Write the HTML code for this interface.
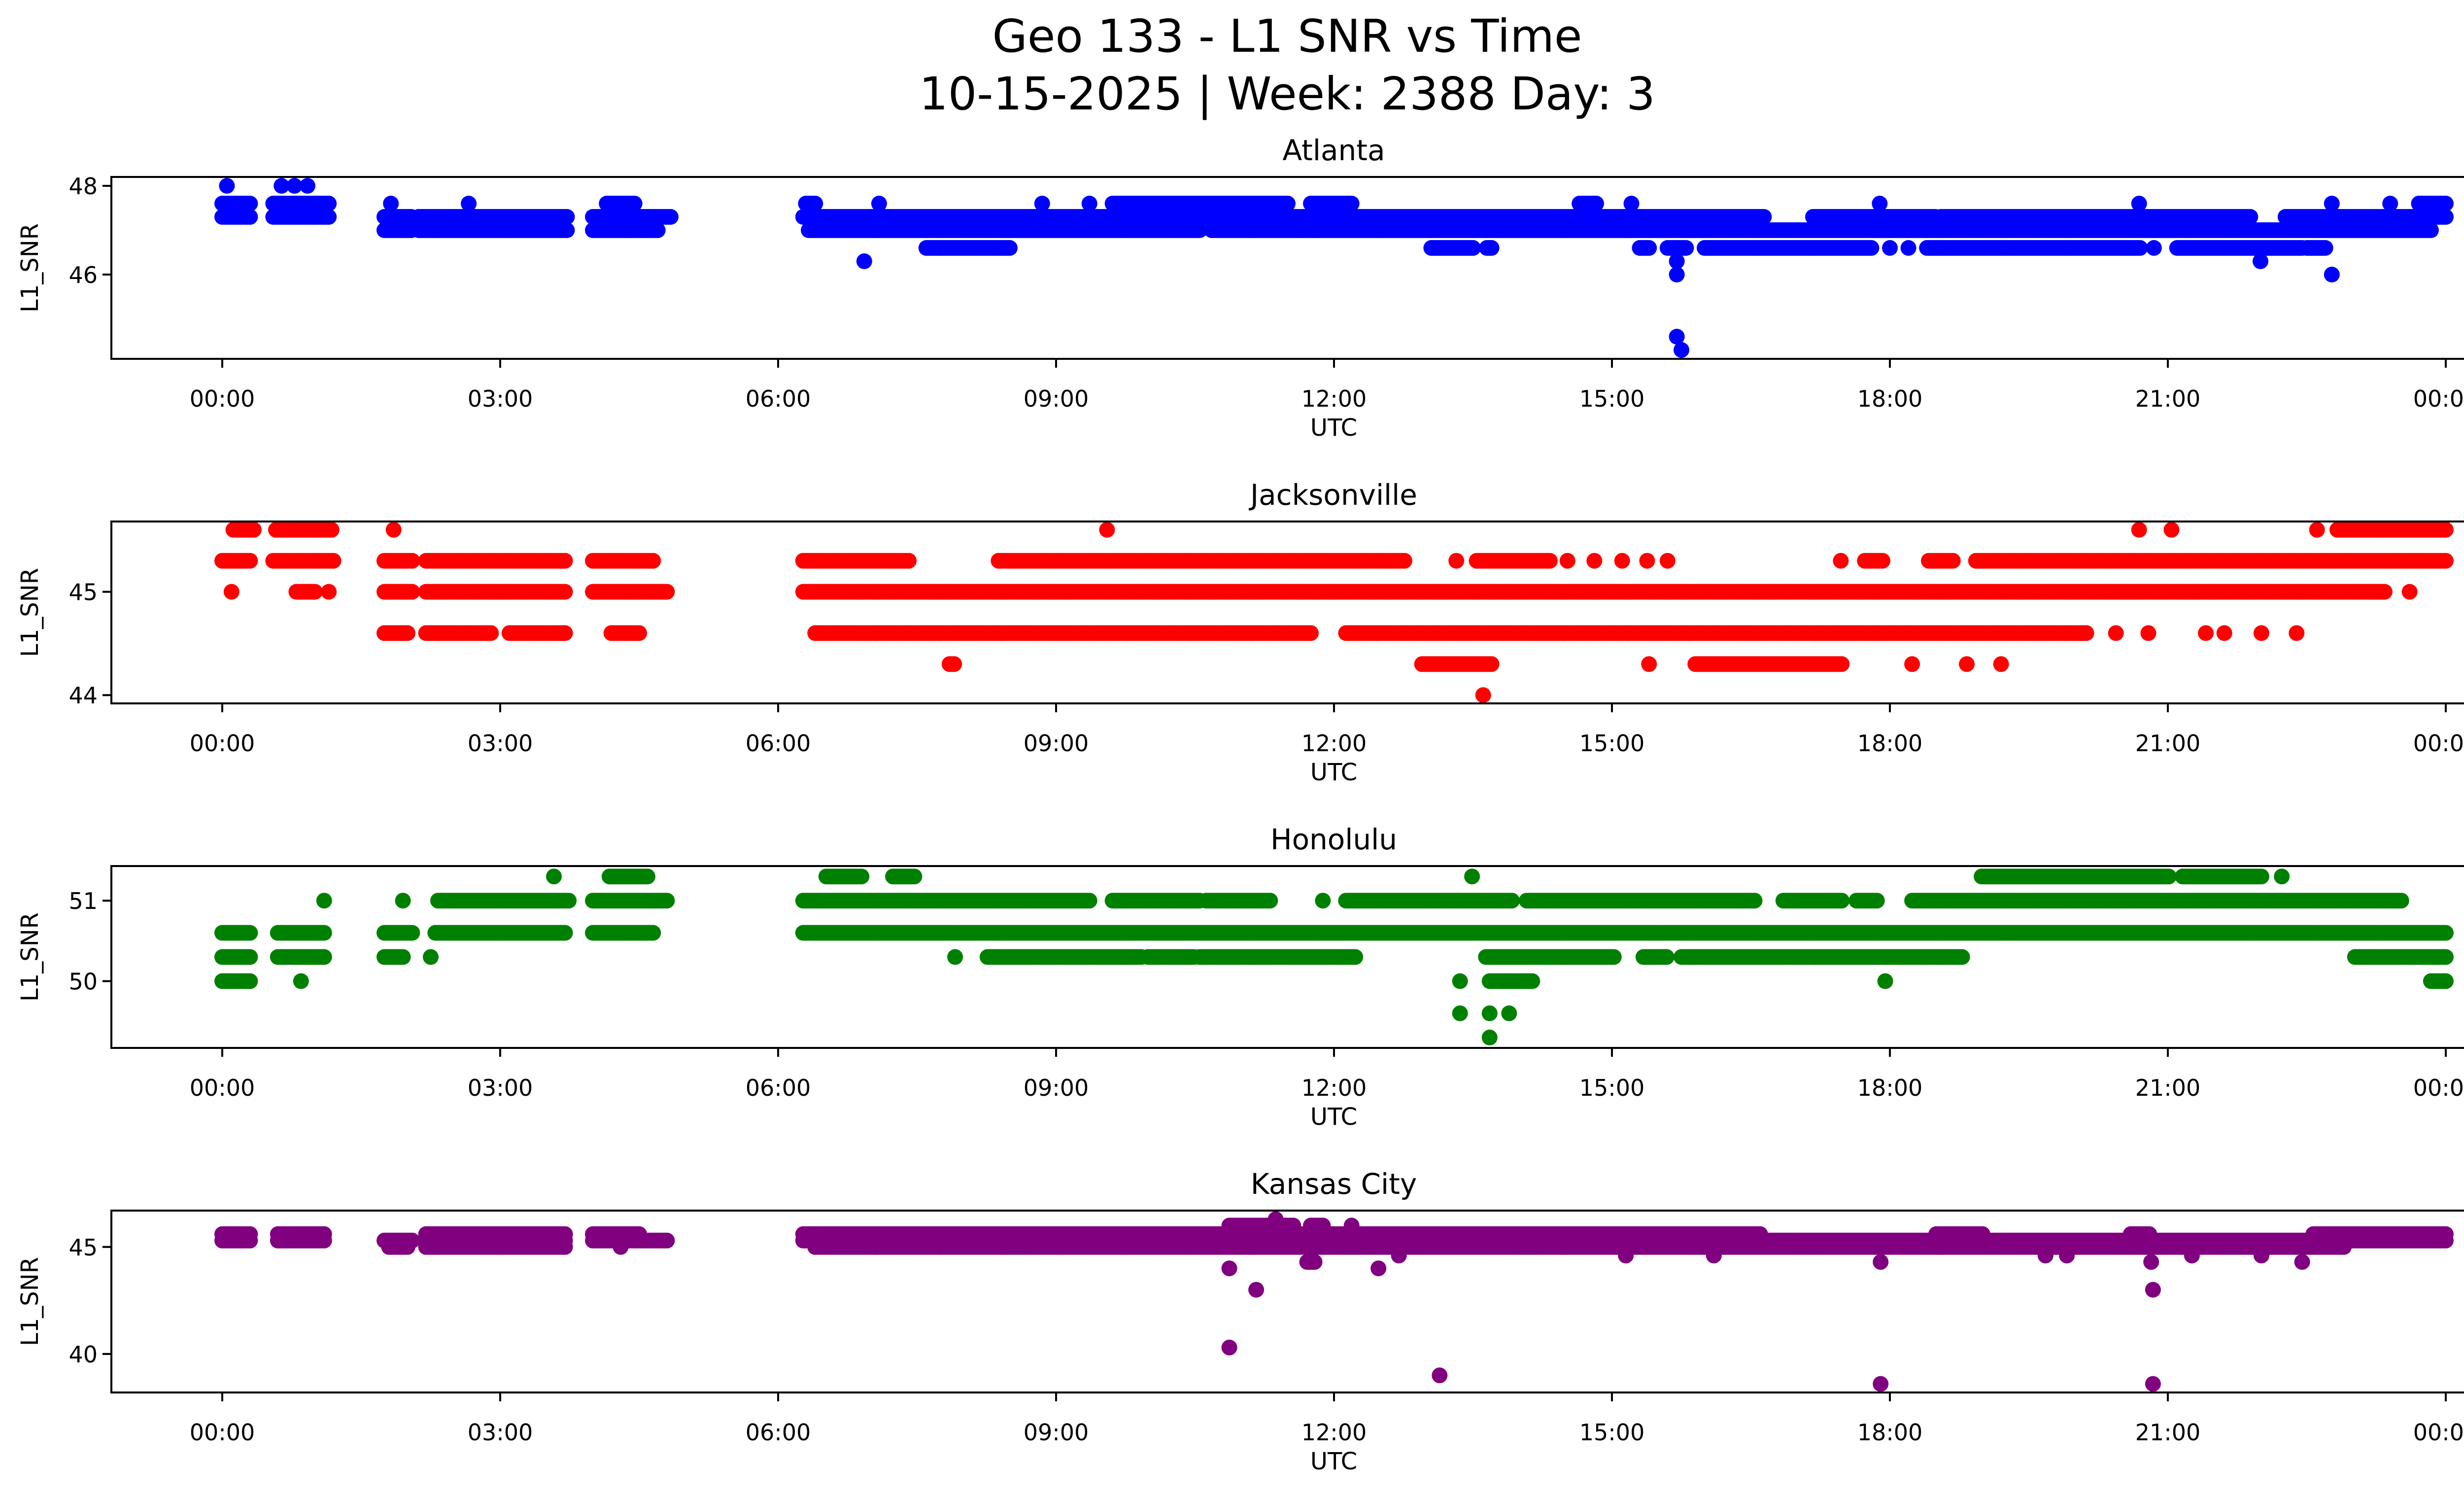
<!DOCTYPE html>
<html><head><meta charset="utf-8"><style>
html,body{margin:0;padding:0;background:#fff;}
svg{display:block;font-family:"DejaVu Sans","Liberation Sans",sans-serif;}
</style></head><body>
<svg id="fig" width="5225" height="3033" viewBox="0 0 5225 3033" xmlns="http://www.w3.org/2000/svg">
<rect width="5225" height="3033" fill="#fff"/>
<text x="2612" y="105" font-size="92" text-anchor="middle">Geo 133 - L1 SNR vs Time</text>
<text x="2612" y="222" font-size="92" text-anchor="middle">10-15-2025 | Week: 2388 Day: 3</text>
</svg>
<script>
// ---- data ----
const panelNames = ["Atlanta","Jacksonville","Honolulu","Kansas City"];
const panelColors = ["#0000ff","#ff0000","#008000","#800080"];
const yTicks = [[46,48],[44,45],[50,51],[40,45]];
const yLims = [[44.1,48.2],[43.92,45.68],[49.17,51.43],[38.2,46.7]];
const xTickHours = [0,3,6,9,12,15,18,21,24];
const xTickLabels = ["00:00","03:00","06:00","09:00","12:00","15:00","18:00","21:00","00:00"];
// runs: [startHour, endHour, L1_SNR]
const atlantaRuns = [
[0,0.3,47.6],[0,0.3,47.3],[0.55,1.15,47.6],[0.55,1.15,47.3],[0.05,0.05,48],[0.64,0.64,48],[0.78,0.78,48],[0.92,0.92,48],
[1.82,1.82,47.6],[1.75,2.04,47.3],[1.75,2.04,47.0],[2.12,3.72,47.3],[2.12,3.72,47.0],[2.66,2.66,47.6],
[4.0,4.84,47.3],[4.0,4.7,47.0],[4.15,4.45,47.6],
[6.27,16.64,47.3],[17.17,18.49,47.3],[18.55,21.89,47.3],[22.27,24,47.3],
[6.33,10.55,47.0],[10.68,23.84,47.0],
[6.3,6.4,47.6],[7.09,7.09,47.6],[8.85,8.85,47.6],[9.36,9.36,47.6],[9.61,11.5,47.6],[11.75,12.19,47.6],[14.65,14.83,47.6],[15.21,15.21,47.6],[17.89,17.89,47.6],[20.69,20.69,47.6],[22.77,22.77,47.6],[23.4,23.4,47.6],[23.71,24,47.6],
[7.6,8.5,46.6],[13.05,13.5,46.6],[13.65,13.7,46.6],[15.3,15.4,46.6],[15.6,15.8,46.6],[16.0,17.8,46.6],[18.0,18.0,46.6],[18.2,18.2,46.6],[18.4,20.7,46.6],[20.85,20.85,46.6],[21.1,22.45,46.6],[22.5,22.7,46.6],
[6.93,6.93,46.3],[15.7,15.7,46.3],[22.0,22.0,46.3],[15.7,15.7,46.0],[22.77,22.77,46.0],[15.7,15.7,44.6],[15.75,15.75,44.3]
];
const jacksonvilleRuns = [
[0.12,0.34,45.6],[0.58,1.18,45.6],[1.85,1.85,45.6],
[0,0.3,45.3],[0.55,1.2,45.3],[1.75,2.05,45.3],[2.2,3.7,45.3],[4.0,4.65,45.3],
[0.1,0.1,45.0],[0.8,1.0,45.0],[1.15,1.15,45.0],[1.75,2.05,45.0],[2.2,3.7,45.0],[4.0,4.8,45.0],
[1.75,2.0,44.6],[2.2,2.9,44.6],[3.1,3.7,44.6],[4.2,4.5,44.6],
[6.27,23.34,45.0],[23.61,23.61,45.0],
[6.27,7.41,45.3],[8.38,12.76,45.3],[13.32,13.32,45.3],[13.54,14.33,45.3],[14.52,14.52,45.3],[14.81,14.81,45.3],[15.11,15.11,45.3],[15.38,15.38,45.3],[15.6,15.6,45.3],[17.47,17.47,45.3],[17.73,17.92,45.3],[18.42,18.68,45.3],[18.93,24,45.3],
[9.55,9.55,45.6],[20.69,20.69,45.6],[21.04,21.04,45.6],[22.61,22.61,45.6],[22.83,24,45.6],
[6.4,11.75,44.6],[12.13,20.12,44.6],[20.44,20.44,44.6],[20.79,20.79,44.6],[21.41,21.41,44.6],[21.61,21.61,44.6],[22.01,22.01,44.6],[22.39,22.39,44.6],
[7.85,7.9,44.3],[12.95,13.7,44.3],[15.4,15.4,44.3],[15.9,17.48,44.3],[18.24,18.24,44.3],[18.83,18.83,44.3],[19.2,19.2,44.3],
[13.61,13.61,44.0]
];
const honoluluRuns = [
[0,0.3,50.6],[0.6,1.1,50.6],[1.75,2.05,50.6],[2.3,3.7,50.6],[4.0,4.65,50.6],
[0,0.3,50.3],[0.6,1.1,50.3],[1.75,1.95,50.3],[2.25,2.25,50.3],
[0,0.3,50.0],[0.85,0.85,50.0],
[1.1,1.1,51.0],[1.95,1.95,51.0],[2.33,3.74,51.0],[4.0,4.8,51.0],
[3.58,3.58,51.3],[4.18,4.59,51.3],
[6.52,6.9,51.3],[7.24,7.47,51.3],[13.49,13.49,51.3],[18.99,21.01,51.3],[21.16,22.01,51.3],[22.23,22.23,51.3],
[6.27,9.36,51.0],[9.61,10.55,51.0],[10.62,11.31,51.0],[11.88,11.88,51.0],[12.13,13.92,51.0],[14.08,16.54,51.0],[16.85,17.48,51.0],[17.64,17.86,51.0],[18.24,23.52,51.0],
[6.27,24,50.6],
[7.91,7.91,50.3],[8.26,9.92,50.3],[9.99,10.49,50.3],[10.55,12.23,50.3],[13.64,15.02,50.3],[15.34,15.59,50.3],[15.75,18.78,50.3],[23.02,24,50.3],
[13.36,13.36,50.0],[13.68,14.14,50.0],[17.95,17.95,50.0],[23.84,24,50.0],
[13.36,13.36,49.6],[13.68,13.68,49.6],[13.89,13.89,49.6],[13.68,13.68,49.3]
];
const kansasRuns = [
[0,0.3,45.6],[0,0.3,45.3],[0.6,1.1,45.6],[0.6,1.1,45.3],[1.75,2.05,45.3],[1.8,2.0,45.0],[2.2,3.7,45.6],[2.2,3.7,45.3],[2.2,3.7,45.0],[4.0,4.5,45.6],[4.0,4.8,45.3],[4.3,4.3,45.0],
[6.27,16.6,45.6],[22.57,24,45.6],[20.6,20.8,45.6],[18.5,19.0,45.6],
[6.27,24,45.3],[6.4,22.9,45.0],
[10.87,11.56,46.0],[11.75,11.88,46.0],[12.19,12.19,46.0],[11.37,11.37,46.3],
[12.7,12.7,44.6],[15.15,15.15,44.6],[16.1,16.1,44.6],[19.68,19.68,44.6],[19.91,19.91,44.6],[21.26,21.26,44.6],[22.01,22.01,44.6],
[11.71,11.79,44.3],[17.9,17.9,44.3],[20.82,20.82,44.3],[22.45,22.45,44.3],
[10.87,10.87,44.0],[12.48,12.48,44.0],[11.16,11.16,43.0],[20.84,20.84,43.0],
[10.87,10.87,40.3],[13.14,13.14,39.0],[17.9,17.9,38.6],[20.84,20.84,38.6]
];
const allRuns = [atlantaRuns,jacksonvilleRuns,honoluluRuns,kansasRuns];

// ---- layout ----
const NS="http://www.w3.org/2000/svg";
const svg=document.getElementById('fig');
const L=226,R=5187,H=369,tops=[359,1058,1757,2456];
const X0=451,PXH=188;
function xs(h){return X0+h*PXH;}
function mk(tag,attrs,parent){const e=document.createElementNS(NS,tag);for(const k in attrs)e.setAttribute(k,attrs[k]);(parent||svg).appendChild(e);return e;}

for(let p=0;p<4;p++){
  const top=tops[p],bot=top+H,[y0,y1]=yLims[p];
  const ys=v=>bot-(v-y0)/(y1-y0)*H;
  const g=mk('g',{});
  
  
  const clipId='clip'+p;
  const cp=mk('clipPath',{id:clipId},g);mk('rect',{x:L,y:top,width:R-L,height:H},cp);
  const dg=mk('g',{'clip-path':'url(#'+clipId+')',fill:panelColors[p]},g);
  
  
  for(const [a,b,v] of allRuns[p]){
    const n=Math.max(0,Math.round((b-a)/0.025));
    for(let i=0;i<=n;i++){
      const h=n?a+(b-a)*i/n:a;
      const c=mk('ellipse',{cx:xs(h).toFixed(1),cy:ys(v).toFixed(1),rx:16,ry:16},dg);
      
      
    }
  }
  const fr=mk('rect',{x:L,y:top,width:R-L,height:H,fill:'none',stroke:'#000','stroke-width':4},g);
  
  
  xTickHours.forEach((h,i)=>{
    mk('line',{x1:xs(h),x2:xs(h),y1:bot,y2:bot+18,stroke:'#000','stroke-width':4},g);
    const t=mk('text',{x:xs(h),y:bot+97,'font-size':46,'text-anchor':'middle'},g);
    t.textContent=xTickLabels[i];
    
    
  });
  yTicks[p].forEach(v=>{
    mk('line',{x1:L-18,x2:L,y1:ys(v),y2:ys(v),stroke:'#000','stroke-width':4},g);
    const t=mk('text',{x:L-28,y:ys(v)+17,'font-size':46,'text-anchor':'end'},g);
    t.textContent=String(v);
    
    
  });
  const xl=mk('text',{x:(L+R)/2,y:bot+156,'font-size':48,'text-anchor':'middle'},g);
  xl.textContent='UTC';
  
  
  const yl=mk('text',{x:0,y:0,'font-size':48,'text-anchor':'middle',transform:'translate(77,'+(top+H/2)+') rotate(-90)'},g);
  yl.textContent='L1_SNR';
  
  
  const tt=mk('text',{x:(L+R)/2,y:top-34,'font-size':58,'text-anchor':'middle'},g);
  tt.textContent=panelNames[p];
  
  
}
</script>
</body></html>
